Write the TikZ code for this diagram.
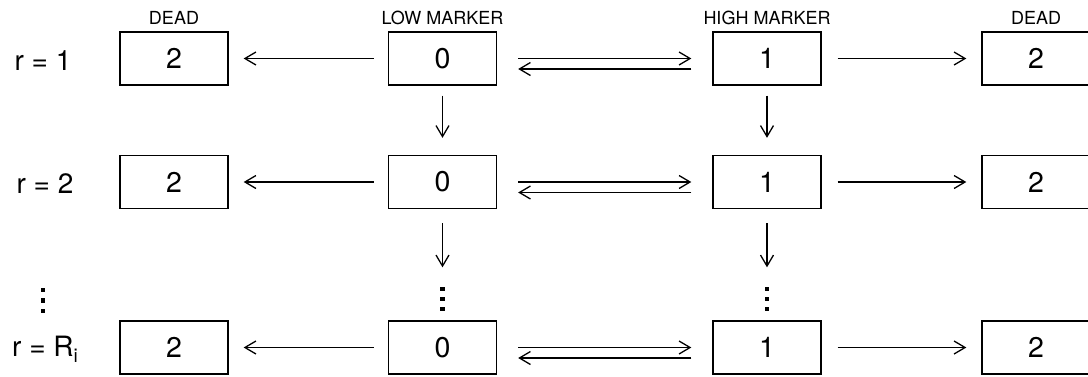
\documentclass[tikz,border=0pt]{standalone}
\usepackage{fontspec}
\setmainfont{TeX Gyre Heros}
\usetikzlibrary{arrows.meta}
\begin{document}
\begin{tikzpicture}[x=1pt,y=-1pt,
  cell/.style={draw, line width=1.35pt, minimum width=108pt, minimum height=53pt,
    inner sep=0pt, font=\fontsize{28.5}{30}\selectfont},
  head/.style={font=\fontsize{18}{20}\selectfont, inner sep=0pt},
  rowlab/.style={font=\fontsize{28}{30}\selectfont, inner sep=0pt, anchor=base},
  arr/.style={line width=1.3pt, -{Straight Barb[length=11pt,width=13pt]}},
  sq/.style={fill=black}
]
\useasboundingbox (0,0) rectangle (1088,376);
\clip (0,0) rectangle (1088,376);

% column headings
\node[head] (hdead1) at (174,17.5) {DEAD};
\node[head] (hlow)   at (442.5,17.5) {LOW MARKER};
\node[head] (hhigh)  at (767,17.5) {HIGH MARKER};
\node[head] (hdead2) at (1036,17.5) {DEAD};

% row labels
\node[rowlab] (r1) at (43,70) {r = 1};
\node[rowlab] (r2) at (45,193) {r = 2};
\node[rowlab] (r3) at (45,356) {r = R\raisebox{-0.22em}{\fontsize{19}{20}\selectfont i}};

% cells
\foreach \r/\y in {1/58.5, 2/182, 3/347.5}{
  \node[cell] (dl\r) at (174,\y)   {2};
  \node[cell] (lo\r) at (442.5,\y) {0};
  \node[cell] (hi\r) at (767,\y)   {1};
  \node[cell] (dr\r) at (1036,\y)  {2};
}

% horizontal transitions
\foreach \r in {1,2,3}{
  \draw[arr, shorten <=14pt, shorten >=15pt] (lo\r.west) -- (dl\r.east);
  \draw[arr, shorten <=16pt, shorten >=15pt] (hi\r.east) -- (dr\r.west);
  \draw[arr, shorten <=21pt, shorten >=21pt] (lo\r.east) -- (hi\r.west);
  \draw[arr, shorten <=21pt, shorten >=21pt]
    ([yshift=-10.5pt]hi\r.west) -- ([yshift=-10.5pt]lo\r.east);
}

% vertical transitions
\foreach \c in {lo,hi}{
  \draw[arr, shorten <=10pt, shorten >=17pt] (\c1.south) -- (\c2.north);
  \draw[arr, shorten <=14pt, shorten >=53pt] (\c2.south) -- (\c3.north);
}

% vertical ellipses
\foreach \x/\a/\b/\c in {43/290/300.5/311, 442.5/289/299/309, 767/289/299/309}{
  \foreach \yy in {\a,\b,\c}{
    \fill[sq] (\x-2.3,\yy-2.3) rectangle (\x+2.3,\yy+2.3);
  }
}
\end{tikzpicture}
\end{document}
